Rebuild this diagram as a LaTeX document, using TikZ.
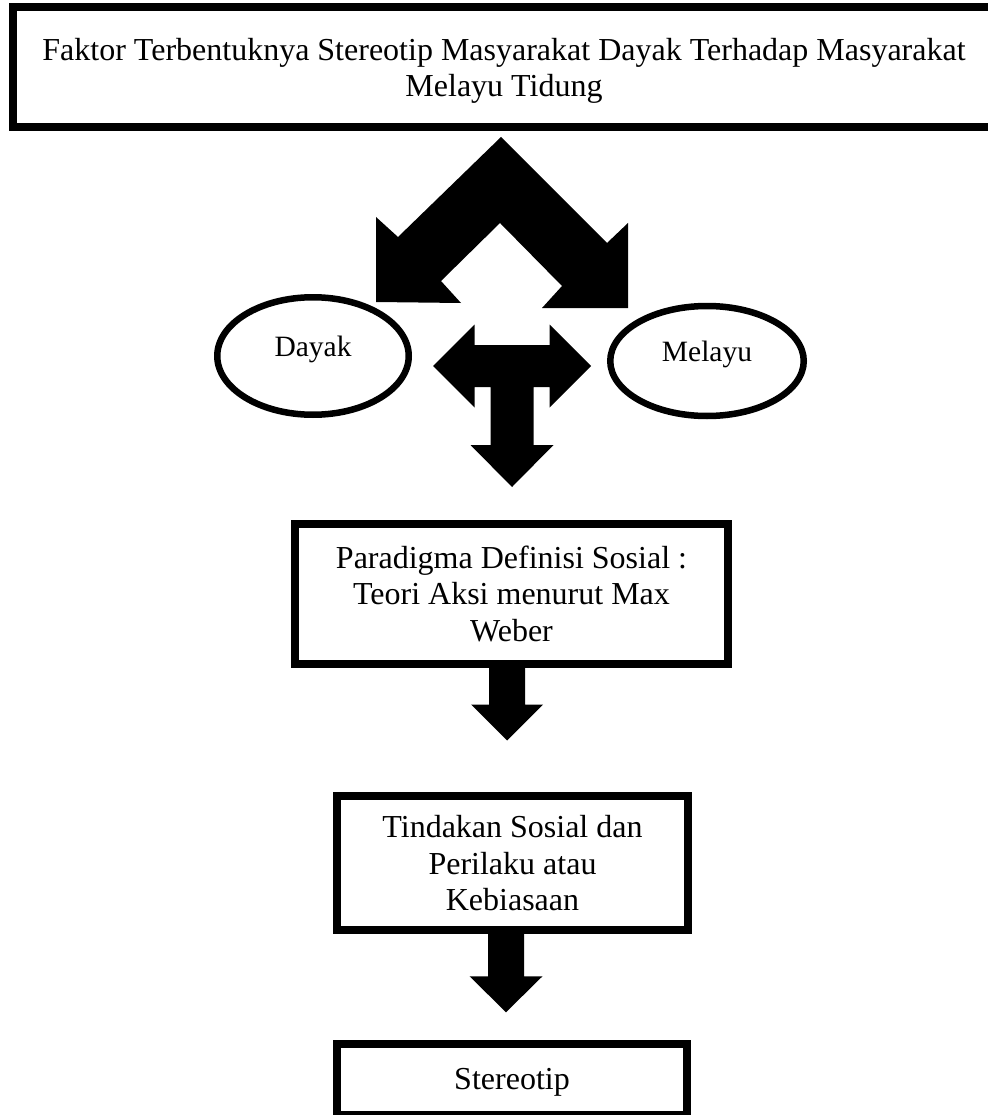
\documentclass[tikz,border=0pt]{standalone}
\usepackage{fontspec}
\setmainfont{Liberation Serif}
\usetikzlibrary{shapes.geometric}

\begin{document}
\begin{tikzpicture}[x=1pt,y=-1pt]
  \tikzstyle{box}=[draw,line width=8pt,align=center,text depth=0pt,font=\fontsize{32}{36.5}\selectfont]
  \tikzstyle{oval}=[draw,ellipse,line width=6.5pt,text height=12pt,text depth=12pt,font=\fontsize{29.5}{33}\selectfont]
  \tikzstyle{block}=[fill=black,draw=none]

  \useasboundingbox (0,0) rectangle (987,1115);

  \node[box,minimum width=982pt,minimum height=120.5pt] (faktor) at (504,67.25)
    {Faktor Terbentuknya Stereotip Masyarakat Dayak Terhadap Masyarakat\\Melayu Tidung};
  \node[oval,minimum width=191.5pt,minimum height=117.5pt] (dayak) at (313,356) {Dayak};
  \node[oval,minimum width=193.5pt,minimum height=110pt] (melayu) at (707,361) {Melayu};
  \node[box,minimum width=433pt,minimum height=140pt] (para) at (511.5,593.5)
    {Paradigma Definisi Sosial :\\Teori Aksi menurut Max\\Weber};
  \node[box,line width=7.5pt,minimum width=351pt,minimum height=134pt] (tindakan) at (512.5,863)
    {Tindakan Sosial dan\\Perilaku atau\\Kebiasaan};
  \node[box,line width=7.5pt,minimum width=350pt,minimum height=70.5pt] (stereotip) at (512,1079) {Stereotip};

  % bent double arrow under the title
  \fill[block] (501,137) -- (607,243) -- (628,223) -- (628,308) -- (542,308) -- (562,286)
    -- (500,223) -- (441,281) -- (461,303) -- (376,302) -- (376,217) -- (398,237) -- cycle;

  % left, right and down arrow between the ovals
  \coordinate (hub) at (512,366);
  \fill[block,shift={(hub)}] (-79,0) -- (-37.5,-41.5) -- (-37.5,-21) -- (37.5,-21) -- (37.5,-41.5)
    -- (79,0) -- (37.5,41.5) -- (37.5,21) -- (21.5,21) -- (21.5,79) -- (41.5,79) -- (0,121)
    -- (-41.5,79) -- (-21.5,79) -- (-21.5,21) -- (-37.5,21) -- (-37.5,41.5) -- cycle;

  % down arrows
  \fill[block] (para.south) ++(-22.5,0) -- ++(0,37) -- ++(-18,0) -- ++(36,36) -- ++(36,-36)
    -- ++(-18,0) -- ++(0,-37) -- cycle;
  \fill[block] (tindakan.south) ++(-24.5,0) -- ++(0,42.5) -- ++(-18.5,0) -- ++(36.5,36)
    -- ++(36.5,-36) -- ++(-18.5,0) -- ++(0,-42.5) -- cycle;
\end{tikzpicture}
\end{document}
